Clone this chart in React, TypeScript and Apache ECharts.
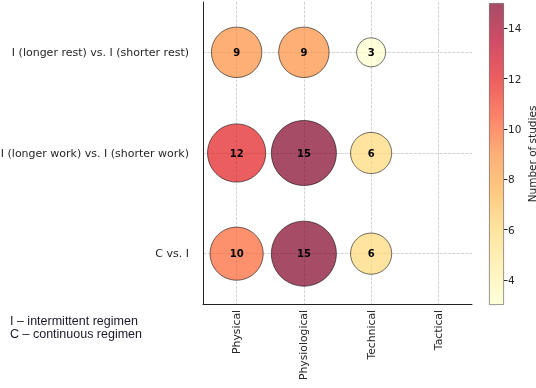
import React, { useEffect, useRef } from 'react';
import * as echarts from 'echarts';

const categories = ['Physical', 'Physiological', 'Technical', 'Tactical'];
const comparisons = [
  'C vs. I',
  'I (longer work) vs. I (shorter work)',
  'I (longer rest) vs. I (shorter rest)',
];
// number of studies per category (Physical, Physiological, Technical, Tactical)
const cVsI = [10, 15, 6, null];
const longerWork = [12, 15, 6, null];
const longerRest = [9, 9, 3, null];
const rowsValues = [cVsI, longerWork, longerRest];

const colorbarMin = 3;
const colorbarMax = 15;
const colorbarTicks = [4, 6, 8, 10, 12, 14];
const palette = ['#ffffcc', '#ffeda0', '#fed976', '#feb24c', '#fd8d3c', '#fc4e2a', '#e31a1c', '#bd0026', '#800026'];
const footnotes = ['I – intermittent regimen', 'C – continuous regimen'];

export default function App() {
  const ref = useRef<HTMLDivElement>(null);
  useEffect(() => {
    if (!ref.current) return;
    const chart = echarts.init(ref.current, undefined, { renderer: 'svg' });
    const data: any[] = [];
    rowsValues.forEach((row, ri) => {
      row.forEach((v, ci) => {
        if (v != null) data.push([categories[ci], comparisons[ri], v]);
      });
    });
    const font = 'DejaVu Sans';
    const gradient = new echarts.graphic.LinearGradient(
      0, 1, 0, 0,
      palette.map((c, i) => ({ offset: i / (palette.length - 1), color: c }))
    );
    chart.setOption({
      animation: false,
      textStyle: { fontFamily: font },
      grid: [
        { left: 203, top: 2, width: 269, height: 302, outerBoundsMode: 'none', containLabel: false },
        { left: 489, top: 3, width: 15, height: 302, outerBoundsMode: 'none', containLabel: false },
      ],
      xAxis: [
        {
          type: 'category',
          gridIndex: 0,
          data: categories,
          boundaryGap: true,
          axisLine: { lineStyle: { color: '#222', width: 1 } },
          axisTick: { alignWithLabel: true, length: 3.5, lineStyle: { color: '#222' } },
          axisLabel: { rotate: 90, fontSize: 10.8, color: '#262626', margin: 6, interval: 0, fontFamily: font },
          splitLine: { show: true, alignWithLabel: true, interval: 0, lineStyle: { color: '#c8c8c8', type: [3, 1.3], width: 0.8 } },
        },
        { type: 'category', gridIndex: 1, data: [''], show: false },
      ],
      yAxis: [
        {
          type: 'category',
          gridIndex: 0,
          data: comparisons,
          boundaryGap: true,
          axisLine: { lineStyle: { color: '#222', width: 1 } },
          axisTick: { alignWithLabel: true, length: 3.5, lineStyle: { color: '#222' } },
          axisLabel: { fontSize: 11, color: '#262626', margin: 14, interval: 0, fontFamily: font },
          splitLine: { show: true, alignWithLabel: true, interval: 0, lineStyle: { color: '#c8c8c8', type: [3, 1.3], width: 0.8 } },
        },
        {
          type: 'value',
          gridIndex: 1,
          min: colorbarMin,
          max: colorbarMax,
          position: 'right',
          axisLine: { show: false },
          axisTick: { show: true, length: 3.5, customValues: colorbarTicks, lineStyle: { color: '#222' } },
          axisLabel: { show: true, customValues: colorbarTicks, fontSize: 10.5, color: '#262626', margin: 4, fontFamily: font },
          splitLine: { show: false },
          name: 'Number of studies',
          nameLocation: 'middle',
          nameRotate: 90,
          nameGap: 22,
          nameTextStyle: { fontSize: 10.5, color: '#262626', fontFamily: font },
        },
      ],
      visualMap: {
        type: 'continuous',
        show: false,
        min: colorbarMin,
        max: colorbarMax,
        dimension: 2,
        seriesIndex: 0,
        inRange: { color: palette },
      },
      series: [
        {
          type: 'scatter',
          xAxisIndex: 0,
          yAxisIndex: 0,
          data,
          symbolSize: (val: any) => 16.8 * Math.sqrt(val[2]),
          itemStyle: { borderColor: '#000', borderWidth: 0.8, opacity: 0.7 },
          label: {
            show: true,
            position: 'inside',
            formatter: (p: any) => String(p.value[2]),
            fontSize: 10,
            fontWeight: 'bold',
            color: '#000',
            opacity: 1,
            fontFamily: font,
          },
          emphasis: { disabled: true },
          z: 3,
        },
        {
          type: 'bar',
          xAxisIndex: 1,
          yAxisIndex: 1,
          stack: 'cb',
          data: [colorbarMin],
          barWidth: '100%',
          itemStyle: { color: 'rgba(0,0,0,0)' },
          silent: true,
        },
        {
          type: 'bar',
          xAxisIndex: 1,
          yAxisIndex: 1,
          stack: 'cb',
          data: [colorbarMax - colorbarMin],
          barWidth: '100%',
          itemStyle: { color: gradient, opacity: 0.7, borderColor: '#444', borderWidth: 0.8 },
          silent: true,
        },
      ],
      graphic: footnotes.map((t, i) => ({
        type: 'text',
        left: 10,
        top: 314 + i * 13.5,
        style: { text: t, fontSize: 12.5, fontFamily: 'Liberation Sans', fill: '#1a1a2a' },
      })),
    });
    return () => chart.dispose();
  }, []);
  return <div ref={ref} style={{ position: 'fixed', left: 0, top: 0, width: 536, height: 388 }} />;
}
